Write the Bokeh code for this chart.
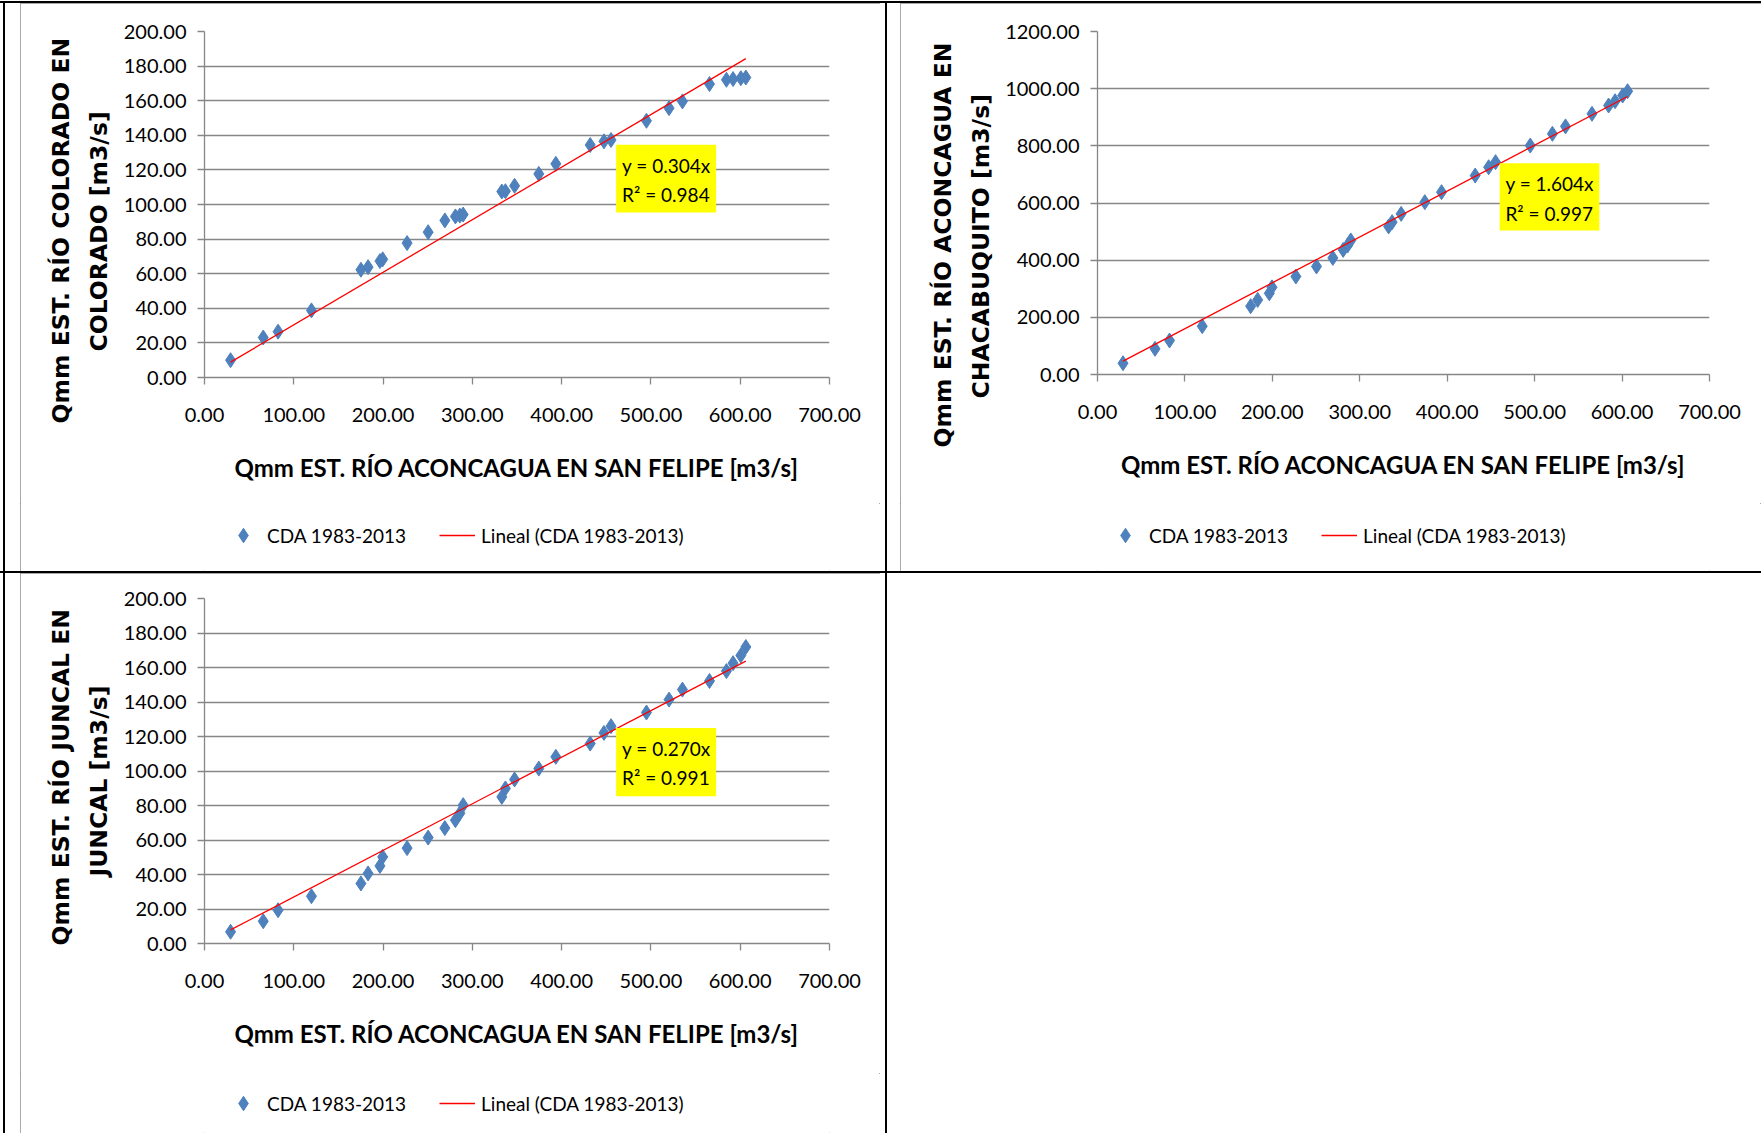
from bokeh.plotting import figure
from bokeh.models import (Range1d, FixedTicker, PrintfTickFormatter, Legend, LegendItem,
                          BoxAnnotation, Label, Spacer, Title)
from bokeh.layouts import row, column
from bokeh.embed import file_html
from bokeh.resources import INLINE

# ---------------- data ----------------
q_san_felipe = [29.2, 65.8, 82.4, 119.8, 175.2, 183.2, 196.5, 199.6, 226.9, 250.5,
                269.2, 281.0, 286.0, 289.7, 333.0, 337.0, 347.3, 374.4, 393.5, 432.0,
                447.4, 455.3, 495.0, 520.3, 535.3, 565.6, 584.6, 592.0, 600.7, 606.3]
q_colorado = [10.0, 23.1, 26.5, 38.8, 62.3, 63.8, 67.3, 68.3, 77.7, 84.0,
              90.8, 93.1, 93.6, 94.2, 107.5, 107.7, 110.8, 117.7, 123.5, 134.4,
              136.5, 137.3, 148.4, 155.7, 159.6, 169.6, 172.1, 172.5, 173.0, 173.4]
q_chacabuquito = [39.5, 89.8, 119.0, 169.0, 239.0, 261.0, 284.0, 305.0, 343.0, 378.0,
                  408.0, 436.0, 451.0, 469.0, 518.0, 533.0, 562.0, 603.0, 638.0, 696.0,
                  725.0, 743.0, 801.0, 842.0, 868.0, 912.0, 941.0, 956.0, 976.0, 991.0]
q_juncal = [6.8, 12.9, 19.3, 27.4, 34.8, 40.6, 45.0, 50.2, 55.3, 61.4,
            66.9, 71.5, 75.5, 80.2, 85.0, 89.9, 95.1, 101.4, 108.2, 115.9,
            122.1, 126.0, 133.9, 141.4, 147.2, 152.2, 157.9, 162.5, 167.0, 171.9]

slopes = [0.304, 1.604, 0.270]
r2_values = [0.984, 0.997, 0.991]
y_title_lines = [("Qmm EST. RÍO COLORADO EN", "COLORADO [m3/s]"),
                 ("Qmm EST. RÍO ACONCAGUA EN", "CHACABUQUITO [m3/s]"),
                 ("Qmm EST. RÍO JUNCAL EN", "JUNCAL [m3/s]")]
x_title = "Qmm EST. RÍO ACONCAGUA EN SAN FELIPE [m3/s]"
y_maxes = [200, 1200, 200]
y_steps = [20, 200, 20]
x_ticks = [0, 100, 200, 300, 400, 500, 600, 700]
series_name = "CDA 1983-2013"
trend_name = "Lineal (CDA 1983-2013)"

# ---------------- layout / style settings ----------------
GRID = "#878787"
BLUE = "#4F81BD"
RED = "#FF0000"
TICK_FONT = "Lato"

# chart figure geometry: width, height, borders; legend strip height and legend offset;
# offsets (px) of the two y-title lines along the axis
geom = [
    dict(w=860, h=500, bl=184, br=51, bt=28, bb=126, lh=68, lx=21, ly=18, off=(-46, 26)),
    dict(w=861, h=500, bl=197, br=52, bt=28, bb=129, lh=68, lx=10, ly=18, off=(-73, -24)),
    dict(w=860, h=500, bl=184, br=51, bt=25, bb=130, lh=60, lx=21, ly=12, off=(-2, 67)),
]
# yellow equation boxes (data coords): left, right, bottom, top, text x, line1 y, line2 y
eq_boxes = [
    dict(l=461, r=573, b=95.4, t=134.6, tx=467.7, y1=122.5, y2=105.8),
    dict(l=460, r=574, b=503.8, t=739.2, tx=466.6, y1=667.2, y2=564.3),
    dict(l=461, r=573, b=85.4, t=125.0, tx=467.7, y1=113.0, y2=96.0),
]
OUTLINE = {"outline": "1.5px solid #8e8e8e", "outline-offset": "-1.5px"}


def make_panel(i, y_vals):
    g = geom[i]
    p = figure(width=g["w"], height=g["h"],
               x_range=Range1d(0, 700), y_range=Range1d(0, y_maxes[i]),
               output_backend="svg", toolbar_location=None,
               min_border_left=g["bl"], min_border_right=g["br"],
               min_border_top=g["bt"], min_border_bottom=g["bb"])
    p.outline_line_color = None
    p.background_fill_color = "white"
    p.border_fill_color = "white"
    p.xgrid.visible = False
    p.ygrid.grid_line_color = GRID
    p.ygrid.grid_line_width = 1.3

    p.xaxis.ticker = FixedTicker(ticks=x_ticks)
    p.yaxis.ticker = FixedTicker(ticks=list(range(0, y_maxes[i] + 1, y_steps[i])))
    for ax in (p.xaxis[0], p.yaxis[0]):
        ax.formatter = PrintfTickFormatter(format="%.2f")
        ax.axis_line_color = GRID
        ax.axis_line_width = 1.3
        ax.major_tick_line_color = GRID
        ax.major_tick_line_width = 1.3
        ax.major_tick_out = 7
        ax.major_tick_in = 0
        ax.minor_tick_line_color = None
        ax.major_label_text_font = TICK_FONT
        ax.major_label_text_font_size = "20px"
        ax.major_label_text_color = "black"
    p.xaxis.major_label_standoff = 23
    p.yaxis.major_label_standoff = 11

    p.xaxis.axis_label = x_title
    p.xaxis.axis_label_text_color = "black"
    p.xaxis.axis_label_text_font_style = "bold"
    p.xaxis.axis_label_text_font = "Lato"
    p.xaxis.axis_label_text_font_size = "24px"
    p.xaxis.axis_label_standoff = 28

    # y title: two lines, each placed along the axis like the reference
    l1, l2 = y_title_lines[i]
    o1, o2 = g["off"]
    for text, off, so in ((l2, o2, 16), (l1, o1, 0)):
        p.add_layout(Title(text=text, align="left", offset=off, standoff=so,
                           text_font="DejaVu Sans", text_font_style="bold",
                           text_font_size="23.5px", text_color="black"), "left")

    p.scatter(q_san_felipe, y_vals, marker="diamond", size=15,
              fill_color=BLUE, line_color=BLUE, line_width=1)
    xs = [min(q_san_felipe), max(q_san_felipe)]
    p.line(xs, [slopes[i] * v for v in xs], line_color=RED, line_width=1.3)

    b = eq_boxes[i]
    p.add_layout(BoxAnnotation(left=b["l"], right=b["r"], bottom=b["b"], top=b["t"],
                               fill_color="#FFFF00", fill_alpha=1.0, line_color=None))
    p.add_layout(Label(x=b["tx"], y=b["y1"], text="y = %.3fx" % slopes[i],
                       text_font=TICK_FONT, text_font_size="19px", text_color="black",
                       text_baseline="middle", text_align="left"))
    p.add_layout(Label(x=b["tx"], y=b["y2"], text="R² = %.3f" % r2_values[i],
                       text_font=TICK_FONT, text_font_size="19px", text_color="black",
                       text_baseline="middle", text_align="left"))

    # legend strip below the chart (a legend is clipped to its plot frame, so it gets
    # its own small figure; its stand-in renderers hold one point outside the view)
    lf = figure(width=g["w"], height=g["lh"], x_range=Range1d(-1, 0), y_range=Range1d(-1, 0),
                x_axis_type=None, y_axis_type=None, output_backend="svg",
                toolbar_location=None, min_border=0)
    lf.grid.visible = False
    lf.outline_line_color = None
    lf.border_fill_color = "white"
    sc_leg = lf.scatter(q_san_felipe[:1], y_vals[:1], marker="diamond", size=15,
                        fill_color=BLUE, line_color=BLUE, line_width=1)
    ln_leg = lf.line(xs, [slopes[i] * v for v in xs], line_color=RED, line_width=1.3)
    legend = Legend(items=[LegendItem(label=series_name, renderers=[sc_leg]),
                           LegendItem(label=trend_name, renderers=[ln_leg])],
                    orientation="horizontal", location=(g["lx"], g["ly"]),
                    border_line_color=None, background_fill_alpha=0,
                    label_text_font=TICK_FONT, label_text_font_size="19px",
                    label_text_color="black",
                    glyph_width=36, glyph_height=36, spacing=33, label_standoff=6,
                    padding=0, margin=0)
    lf.add_layout(legend)
    return column(p, lf, spacing=0, styles=OUTLINE)


c1 = make_panel(0, q_colorado)
c2 = make_panel(1, q_chacabuquito)
c3 = make_panel(2, q_juncal)

BLACK = {"background-color": "black"}


def black(w, h):
    return Spacer(width=w, height=h, styles=BLACK)


H1 = geom[0]["h"] + geom[0]["lh"]
H2 = geom[2]["h"] + geom[2]["lh"]
row1 = row(Spacer(width=3, height=H1), black(2, H1), Spacer(width=15, height=H1), c1,
           Spacer(width=5, height=H1), black(2, H1), Spacer(width=13, height=H1), c2,
           spacing=0)
row2 = row(Spacer(width=3, height=H2), black(2, H2), Spacer(width=15, height=H2), c3,
           Spacer(width=5, height=H2), black(2, H2), Spacer(width=874, height=H2),
           spacing=0)
page = column(Spacer(width=1761, height=1), black(1761, 2), row1, black(1761, 2), row2,
              spacing=0)

open("out.html", "w").write(file_html(page, INLINE))
